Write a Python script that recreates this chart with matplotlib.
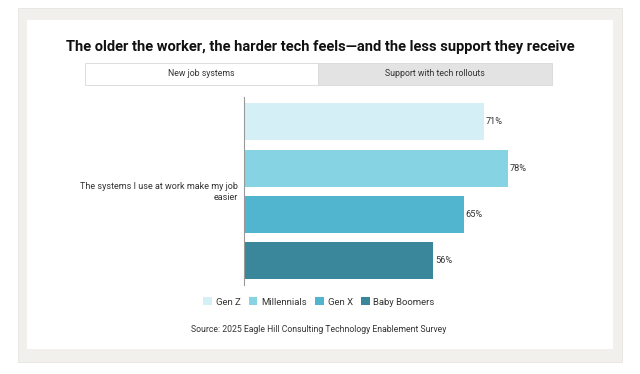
import matplotlib.pyplot as plt
from matplotlib.patches import Rectangle

plt.rcParams['font.family'] = ['Roboto', 'DejaVu Sans']

title = "The older the worker, the harder tech feels\u2014and the less support they receive"
tabs = ["New job systems", "Support with tech rollouts"]
category = "The systems I use at work make my job\neasier"
generations = ["Gen Z", "Millennials", "Gen X", "Baby Boomers"]
values = [71, 78, 65, 56]
colors = ["#d5eff6", "#86d3e3", "#52b5d0", "#3a879b"]
source = "Source: 2025 Eagle Hill Consulting Technology Enablement Survey"

W, H = 640, 374
fig = plt.figure(figsize=(W / 100, H / 100), dpi=100)
fig.patch.set_facecolor("white")


def px_rect(x0, y0, x1, y1, **kw):
    # rectangle given in pixel coords (origin top-left)
    fig.patches.append(Rectangle((x0 / W, 1 - y1 / H), (x1 - x0) / W, (y1 - y0) / H,
                                 transform=fig.transFigure, figure=fig, **kw))


px_rect(18, 8, 622, 362, facecolor="#f1f0ed", edgecolor="#e6e5e1", lw=0.6, zorder=-3)
px_rect(27, 20, 613, 349, facecolor="white", edgecolor="none", zorder=-2)

# tabs
px_rect(318, 63, 552, 85, facecolor="#e3e3e3", edgecolor="#d8d8d8", lw=0.6, zorder=-1)
px_rect(85, 63, 318, 85, facecolor="white", edgecolor="#d8d8d8", lw=0.6, zorder=-1)
fig.text(201 / W, 1 - 74 / H, tabs[0], ha="center", va="center", fontsize=6.3, color="#333333")
fig.text(435 / W, 1 - 74 / H, tabs[1], ha="center", va="center", fontsize=6.3, color="#333333")

fig.text(320 / W, 1 - 47 / H, title, ha="center", va="center", fontsize=10.5,
         fontweight="bold", color="#111111")

ax = fig.add_axes([244 / W, 1 - 285 / H, 338 / W, 188 / H])
ax.set_facecolor("none")
pos = list(range(len(values)))
bars = ax.barh(pos, values, height=0.8, color=colors)
for b, v in zip(bars, values):
    ax.text(v + 0.5, b.get_y() + b.get_height() / 2, f"{v}%", va="center", ha="left",
            fontsize=6.6, color="#333333")
ax.set_xlim(0, 100)
ax.set_ylim(3.53, -0.54)
for s in ["top", "right", "bottom"]:
    ax.spines[s].set_visible(False)
ax.spines["left"].set_color("#999999")
ax.spines["left"].set_linewidth(0.8)
ax.set_xticks([])
ax.set_yticks([])

fig.text(238 / W, 1 - 192 / H, category, ha="right", va="center", fontsize=6.5,
         color="#333333", linespacing=1.3)

handles = [Rectangle((0, 0), 1, 1, facecolor=c) for c in colors]
fig.legend(handles, generations, loc="center", bbox_to_anchor=(319 / W, 1 - 302 / H),
           ncol=4, frameon=False, fontsize=6.8, handlelength=0.9, handleheight=0.9,
           handletextpad=0.4, columnspacing=0.9, labelcolor="#333333")

fig.text(319 / W, 1 - 329 / H, source, ha="center", va="center", fontsize=6.2, color="#333333")

fig.savefig("out.png", dpi=100)
